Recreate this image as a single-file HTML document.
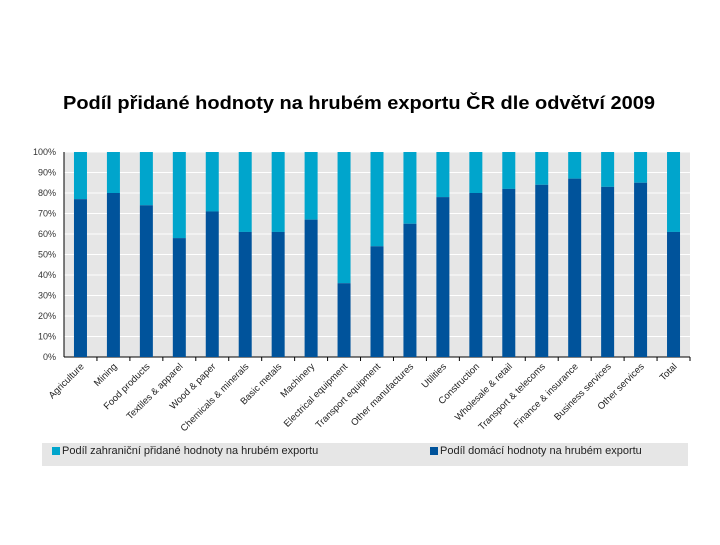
<!DOCTYPE html>
<html><head><meta charset="utf-8"><style>
body{margin:0;background:#fff;width:720px;height:540px;overflow:hidden;font-family:"Liberation Sans",sans-serif}
</style></head><body>
<svg id="c" width="720" height="540" xmlns="http://www.w3.org/2000/svg">
<text x="63" y="109" textLength="592" lengthAdjust="spacingAndGlyphs" font-size="18" font-weight="bold" fill="#000">Podíl přidané hodnoty na hrubém exportu ČR dle odvětví 2009</text>
<rect x="42" y="443" width="646" height="23" fill="#e6e6e6"/>
<rect x="52" y="447" width="8" height="8" fill="#00a5cc"/>
<text x="62" y="454" font-size="11" fill="#222">Podíl zahraniční přidané hodnoty na hrubém exportu</text>
<rect x="430" y="447" width="8" height="8" fill="#00539b"/>
<text x="440" y="454" font-size="11" fill="#222">Podíl domácí hodnoty na hrubém exportu</text>
</svg>
<script>
const categories=["Agriculture","Mining","Food products","Textiles & apparel","Wood & paper","Chemicals & minerals","Basic metals","Machinery","Electrical equipment","Transport equipment","Other manufactures","Utilities","Construction","Wholesale & retail","Transport & telecoms","Finance & insurance","Business services","Other services","Total"];
const domestic=[77,80,74,58,71,61,61,67,36,54,65,78,80,82,84,87,83,85,61];
const yTicks=[0,10,20,30,40,50,60,70,80,90,100];
const svg=document.getElementById('c');
const NS='http://www.w3.org/2000/svg';
const X0=64,X1=690,Y0=357,Y1=152;
const slot=(X1-X0)/categories.length;
const y=v=>Y0-(v/100)*(Y0-Y1);
const xc=i=>X0+slot*(i+0.5);
function mk(t,a){const e=document.createElementNS(NS,t);for(const k in a)e.setAttribute(k,a[k]);svg.appendChild(e);return e;}
const bg=mk('rect',{x:X0,y:Y1,width:X1-X0,height:Y0-Y1,fill:'#e6e6e6'});


yTicks.forEach(t=>{
 const g=mk('line',{x1:X0,x2:X1,y1:y(t),y2:y(t),stroke:'#fff','stroke-width':1});
 
 
 const l=mk('text',{x:X0-8,y:y(t)+3,'text-anchor':'end','font-size':9,fill:'#333'});
 l.textContent=t+'%';
 
 
});
const ax=mk('line',{x1:X0,x2:X0,y1:Y1,y2:Y0,stroke:'#000'});


const bx=mk('line',{x1:X0,x2:X1,y1:Y0,y2:Y0,stroke:'#000'});


const bw=13;
categories.forEach((c,i)=>{
 const cx=xc(i);
 const f=mk('rect',{x:cx-bw/2,y:y(100),width:bw,height:y(domestic[i])-y(100),fill:'#00a5cc'});
 
 
 const d=mk('rect',{x:cx-bw/2,y:y(domestic[i]),width:bw,height:Y0-y(domestic[i]),fill:'#00539b'});
 
 
 const tk=mk('line',{x1:X0+slot*(i+1),x2:X0+slot*(i+1),y1:Y0,y2:Y0+4,stroke:'#000'});
 
 
 const t=mk('text',{x:cx+4,y:Y0+10,'text-anchor':'end','font-size':9.5,fill:'#222',transform:`rotate(-45 ${cx+4} ${Y0+10})`});
 t.textContent=c;
 
 
});
</script>
</body></html>
